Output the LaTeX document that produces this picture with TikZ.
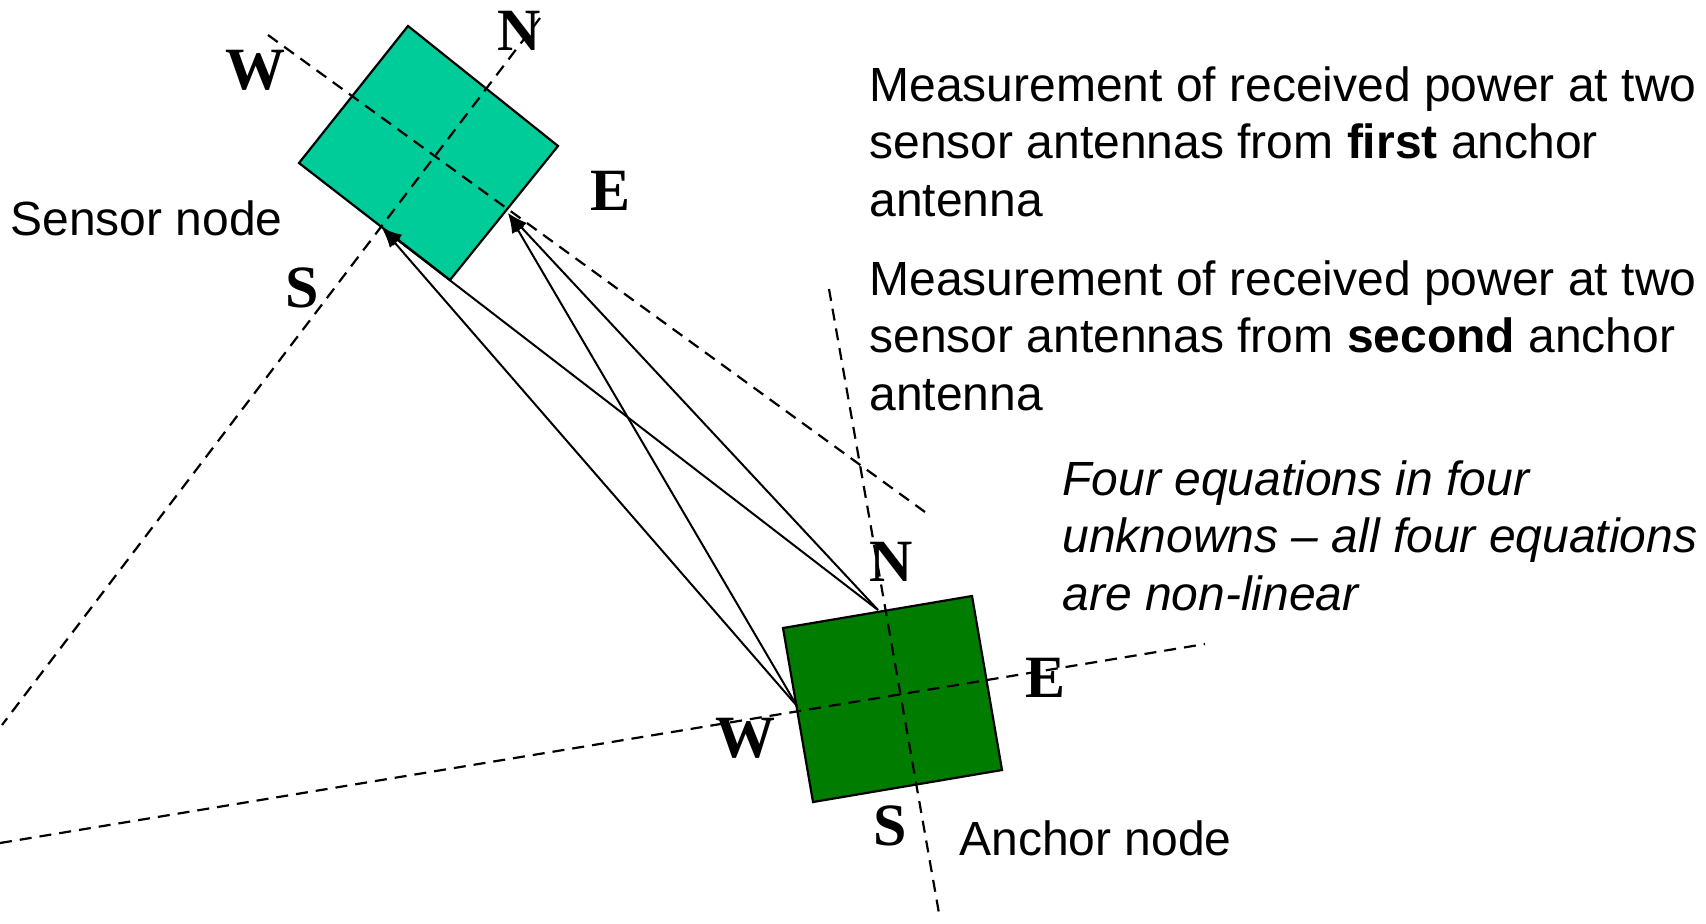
\documentclass[tikz,border=0pt]{standalone}
\usepackage{fontspec}
\setmainfont{Liberation Sans}
\newfontfamily\compassfont{Liberation Serif}
\usetikzlibrary{arrows.meta}

\definecolor{sensorgreen}{RGB}{0,204,153}
\definecolor{anchorgreen}{RGB}{0,125,0}

\tikzset{
  axis/.style={dash pattern=on 6pt off 4pt, line width=1.1pt},
  ray/.style={-{Latex[length=10pt,width=7pt]}, line width=1pt},
  box/.style={draw, line width=1.1pt},
  dir/.style={font=\compassfont\bfseries\fontsize{30}{30}\selectfont, inner sep=0pt},
  note/.style={font=\fontsize{24}{28.75}\selectfont, inner sep=0pt, anchor=base west, align=left}
}

\begin{document}
\begin{tikzpicture}[x=0.5pt, y=-0.5pt]
\useasboundingbox (0,0) rectangle (1706,923);

% sensor square and its axes
\coordinate (sT) at (408,26);
\coordinate (sR) at (558,146);
\coordinate (sB) at (450,280);
\coordinate (sL) at (299,163);
\coordinate (sWend) at (268,35);
\coordinate (sEend) at (925,512);
\coordinate (sNend) at (540,18);
\coordinate (sSend) at (2,725);
\coordinate (sS) at (382,228);
\coordinate (sE) at (508,213);

% anchor square and its axes
\coordinate (aTL) at (783,628);
\coordinate (aTR) at (972,596);
\coordinate (aBR) at (1002,770);
\coordinate (aBL) at (813,802);
\coordinate (aNend) at (829,289);
\coordinate (aSend) at (940,919);
\coordinate (aWend) at (0,843);
\coordinate (aEend) at (1205,644);
\coordinate (aN) at (878,610);
\coordinate (aW) at (797,706);

\draw[box, fill=sensorgreen] (sT) -- (sR) -- (sB) -- (sL) -- cycle;
\draw[box, fill=anchorgreen] (aTL) -- (aTR) -- (aBR) -- (aBL) -- cycle;

\draw[axis] (sWend) -- (sEend);
\draw[axis] (sNend) -- (sSend);
\draw[axis] (aNend) -- (aSend);
\draw[axis] (aWend) -- (aEend);

% received power paths
\draw[ray] (aW) -- (sS);
\draw[ray] (aW) -- (sE);
\draw[ray] (aN) -- (sS);
\draw[ray] (aN) -- (sE);

% compass letters
\node[dir] (sWlab) at (255,70) {W};
\node[dir] (sNlab) at (519,31) {N};
\node[dir] (sElab) at (610,191) {E};
\node[dir] (sSlab) at (302,288) {S};
\node[dir] (aNlab) at (891,562) {N};
\node[dir] (aElab) at (1045,678) {E};
\node[dir] (aWlab) at (745,738) {W};
\node[dir] (aSlab) at (890,826) {S};

% texts (base = last line)
\node[note] (sensorlab) at (10,235) {Sensor node};
\node[note] (anchorlab) at (959,855) {Anchor node};
\node[note] (first) at (869,216) {Measurement of received power at two\\sensor antennas from \textbf{first} anchor\\antenna};
\node[note] (second) at (869,410) {Measurement of received power at two\\sensor antennas from \textbf{second} anchor\\antenna};
\node[note, font=\itshape\fontsize{24}{28.75}\selectfont] (system) at (1062,610) {Four equations in four\\unknowns -- all four equations\\are non-linear};
\end{tikzpicture}
\end{document}
